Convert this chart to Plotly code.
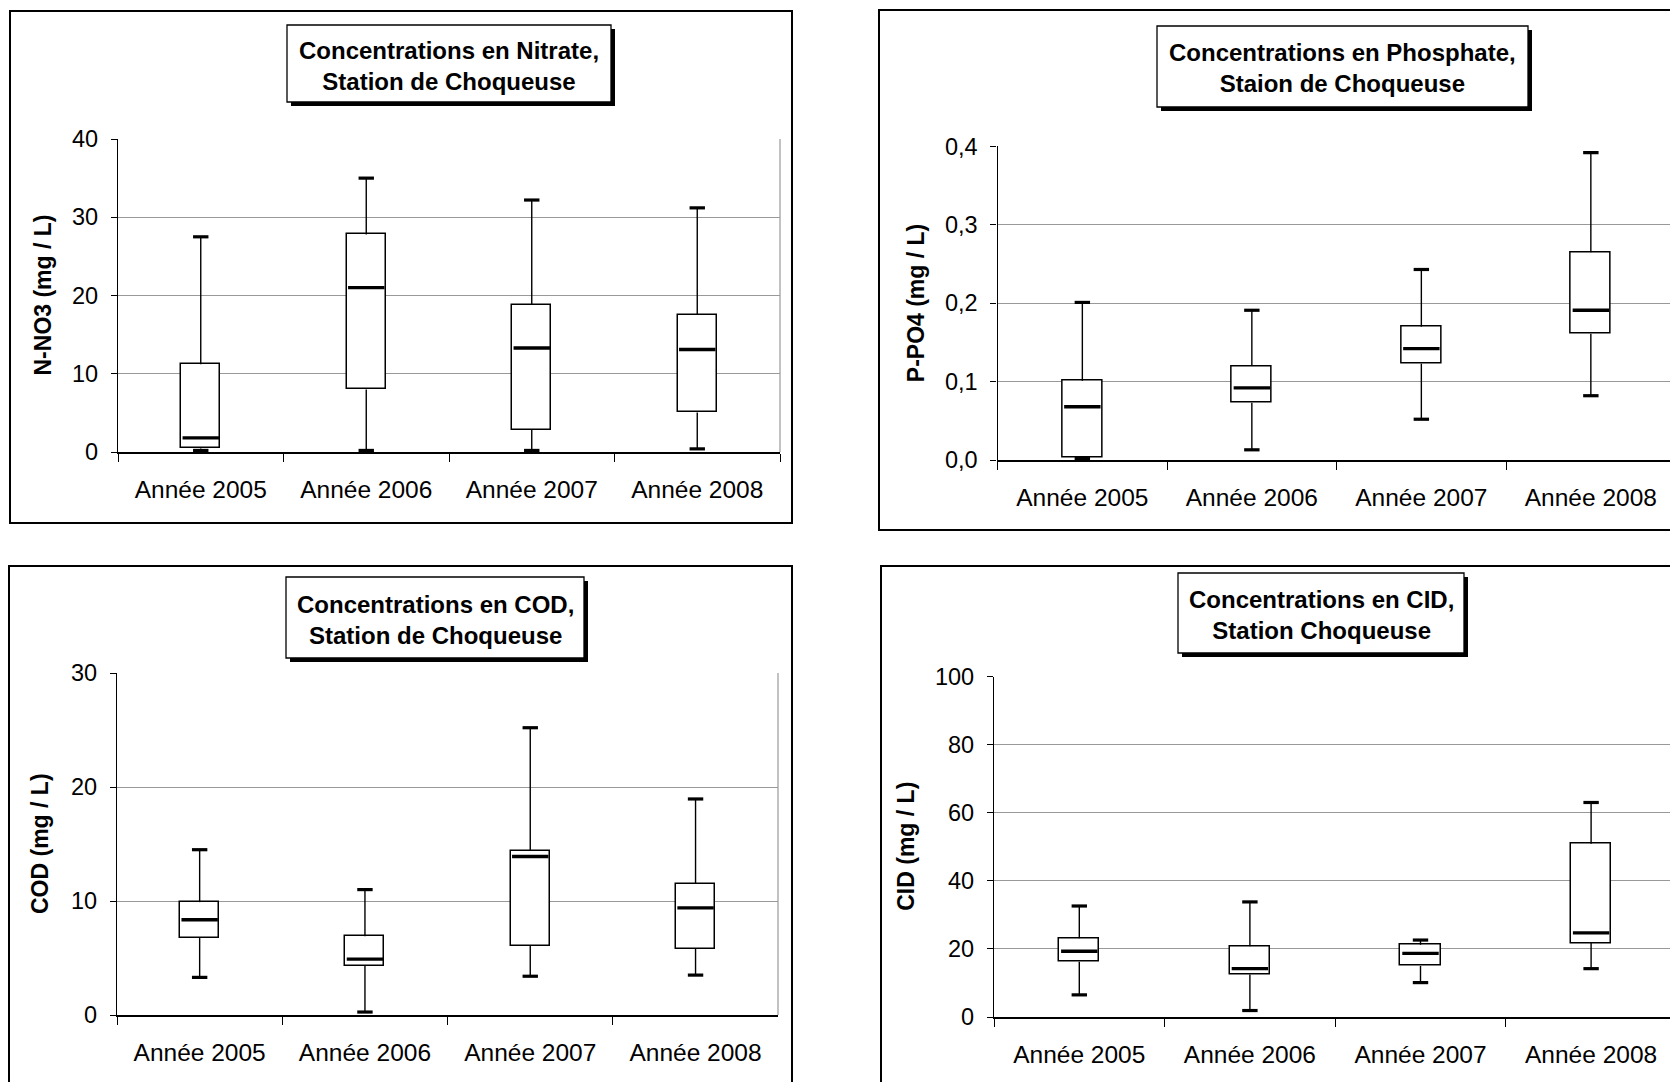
import plotly.graph_objects as go

# ---------------- data ----------------
categories = ["Année 2005", "Année 2006", "Année 2007", "Année 2008"]

nitrate_low = [0.2, 0.2, 0.2, 0.4]
nitrate_q1 = [0.45, 8.0, 2.85, 5.05]
nitrate_med = [1.8, 21.0, 13.3, 13.1]
nitrate_q3 = [11.2, 27.8, 18.8, 17.5]
nitrate_high = [27.5, 35.0, 32.2, 31.2]

phosphate_low = [0.002, 0.013, 0.052, 0.082]
phosphate_q1 = [0.0035, 0.073, 0.123, 0.161]
phosphate_med = [0.068, 0.092, 0.142, 0.191]
phosphate_q3 = [0.101, 0.120, 0.170, 0.265]
phosphate_high = [0.201, 0.191, 0.243, 0.392]

cod_low = [3.3, 0.26, 3.4, 3.5]
cod_q1 = [6.75, 4.3, 6.05, 5.8]
cod_med = [8.35, 4.9, 13.9, 9.4]
cod_q3 = [9.9, 6.9, 14.4, 11.5]
cod_high = [14.5, 11.0, 25.2, 18.95]

cid_low = [6.5, 1.9, 10.1, 14.2]
cid_q1 = [16.2, 12.5, 15.0, 21.7]
cid_med = [19.3, 14.2, 18.7, 24.7]
cid_q3 = [23.1, 20.8, 21.2, 50.9]
cid_high = [32.6, 33.8, 22.6, 63.0]

titles = [
    "Concentrations en Nitrate,<br>Station de Choqueuse",
    "Concentrations en Phosphate,<br>Staion de Choqueuse",
    "Concentrations en COD,<br>Station de Choqueuse",
    "Concentrations en CID,<br>Station Choqueuse",
]
y_titles = ["N-NO3 (mg / L)", "P-PO4 (mg / L)", "COD (mg / L)", "CID (mg / L)"]
y_ranges = [[0, 40], [0, 0.4], [0, 30], [0, 100]]
y_dticks = [10, 0.1, 10, 20]
y_formats = ["d", ".1f", "d", "d"]

series = [
    (nitrate_low, nitrate_q1, nitrate_med, nitrate_q3, nitrate_high),
    (phosphate_low, phosphate_q1, phosphate_med, phosphate_q3, phosphate_high),
    (cod_low, cod_q1, cod_med, cod_q3, cod_high),
    (cid_low, cid_q1, cid_med, cid_q3, cid_high),
]

# ---------------- layout geometry (pixels) ----------------
W, H = 1670, 1082
FONT = "Liberation Sans, Arial, sans-serif"

panels = [
    dict(frame=(10, 11, 792, 523), plot=(118, 139, 780, 452), cat=165.5,
         tbox=(287, 25, 611, 102), ytx=43),
    dict(frame=(879, 10, 1720, 530), plot=(997.6, 146.4, 1670, 460), cat=169.5,
         tbox=(1157, 26, 1528, 107), ytx=916),
    dict(frame=(9, 566, 792, 1120), plot=(117, 673, 778, 1015), cat=165.3,
         tbox=(286, 577, 584, 658), ytx=40),
    dict(frame=(881, 566, 1720, 1120), plot=(994, 676.5, 1670, 1017), cat=170.6,
         tbox=(1178, 573, 1464, 653), ytx=906),
]


def px(x):
    return x / W


def py(y):
    return 1 - y / H


fig = go.Figure()
shapes = []
annotations = []
layout_axes = {}

for i, (p, s) in enumerate(zip(panels, series)):
    n = "" if i == 0 else str(i + 1)
    xa, ya = "x" + n, "y" + n
    low, q1, med, q3, high = s

    # box bodies
    fig.add_trace(go.Bar(
        x=categories, y=[b - a for a, b in zip(q1, q3)], base=q1,
        width=0.236, marker=dict(color="white", line=dict(color="black", width=1.5)),
        xaxis=xa, yaxis=ya, showlegend=False, hoverinfo="skip"))

    # whiskers
    wx, wy = [], []
    for c, lo, a, b, hi in zip(categories, low, q1, q3, high):
        wx += [c, c, None, c, c, None]
        wy += [lo, a, None, b, hi, None]
    fig.add_trace(go.Scatter(
        x=wx, y=wy, mode="lines", line=dict(color="black", width=1.4),
        xaxis=xa, yaxis=ya, showlegend=False, hoverinfo="skip"))

    # caps
    fig.add_trace(go.Scatter(
        x=categories + categories, y=low + high, mode="markers",
        marker=dict(symbol="line-ew", size=11, line=dict(color="black", width=3.2)),
        xaxis=xa, yaxis=ya, showlegend=False, hoverinfo="skip"))

    # medians
    fig.add_trace(go.Scatter(
        x=categories, y=med, mode="markers",
        marker=dict(symbol="line-ew", size=26, line=dict(color="black", width=3.4)),
        xaxis=xa, yaxis=ya, showlegend=False, hoverinfo="skip"))

    x0, y0, x1, y1 = p["plot"]
    xmax = -0.5 + (x1 - x0) / p["cat"]
    layout_axes["xaxis" + n] = dict(
        domain=[px(x0), px(x1)], anchor=ya, type="category",
        categoryorder="array", categoryarray=categories, automargin=False,
        range=[-0.5, min(3.5, xmax)], showline=True, linecolor="black", linewidth=1.6,
        ticks="outside", ticklen=8, tickwidth=1.3, tickcolor="black",
        tickson="boundaries", showgrid=False, zeroline=False,
        tickfont=dict(family=FONT, size=24.5, color="black"),
        ticklabelstandoff=15, fixedrange=True)
    layout_axes["yaxis" + n] = dict(
        domain=[py(y1), py(y0)], anchor=xa, range=y_ranges[i], dtick=y_dticks[i],
        tick0=0, tickformat=y_formats[i], automargin=False,
        showline=True, linecolor="black", linewidth=1.4,
        ticks="outside", ticklen=6, tickwidth=1.3, tickcolor="black",
        showgrid=True, gridcolor="#999999", gridwidth=1, zeroline=False,
        tickfont=dict(family=FONT, size=23.5, color="black"),
        ticklabelstandoff=8, fixedrange=True)

    # grey right border of plot area (left panels only)
    if x1 < W:
        shapes.append(dict(type="line", xref="paper", yref="paper",
                           x0=px(x1), x1=px(x1), y0=py(y0), y1=py(y1),
                           line=dict(color="#999999", width=1.2), layer="below"))

    # panel frame
    fx0, fy0, fx1, fy1 = p["frame"]
    shapes.append(dict(type="rect", xref="paper", yref="paper",
                       x0=px(fx0), x1=px(fx1), y0=py(fy1), y1=py(fy0),
                       line=dict(color="black", width=2), layer="below"))

    # title box with shadow
    tx0, ty0, tx1, ty1 = p["tbox"]
    shapes.append(dict(type="rect", xref="paper", yref="paper",
                       x0=px(tx0 + 4), x1=px(tx1 + 4), y0=py(ty1 + 4), y1=py(ty0 + 4),
                       fillcolor="black", line=dict(width=0), layer="above"))
    shapes.append(dict(type="rect", xref="paper", yref="paper",
                       x0=px(tx0), x1=px(tx1), y0=py(ty1), y1=py(ty0),
                       fillcolor="white", line=dict(color="black", width=1.3), layer="above"))
    annotations.append(dict(
        text="<b>" + titles[i] + "</b>", xref="paper", yref="paper",
        x=px((tx0 + tx1) / 2), y=py((ty0 + ty1) / 2 + 2), xanchor="center", yanchor="middle",
        showarrow=False, align="center",
        font=dict(family=FONT, size=24, color="black")))

    # y-axis title
    annotations.append(dict(
        text="<b>" + y_titles[i] + "</b>", xref="paper", yref="paper",
        x=px(p["ytx"]), y=py((y0 + y1) / 2), xanchor="center", yanchor="middle",
        textangle=-90, showarrow=False,
        font=dict(family=FONT, size=23, color="black")))

fig.update_layout(
    width=W, height=H, margin=dict(l=0, r=0, t=0, b=0, autoexpand=False),
    paper_bgcolor="white", plot_bgcolor="white",
    separators=", ", showlegend=False, bargap=0,
    shapes=shapes, annotations=annotations, **layout_axes)

fig.write_html("out.html", config={"displayModeBar": False})
